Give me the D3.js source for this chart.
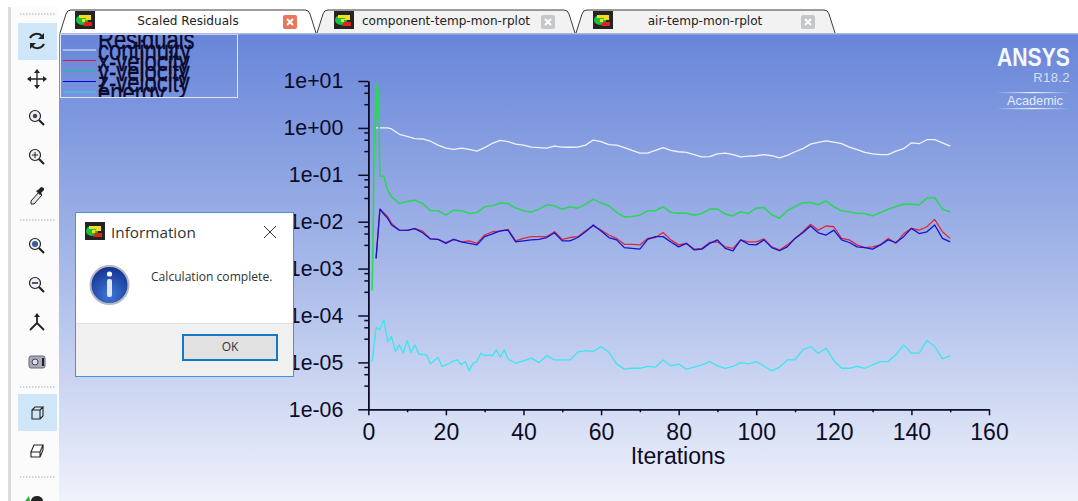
<!DOCTYPE html>
<html>
<head>
<meta charset="utf-8">
<script src="https://cdn.jsdelivr.net/npm/d3@7"></script>
<style>
  html, body { margin: 0; padding: 0; background: #fff; overflow: hidden; }
  svg { display: block; font-family: "Liberation Sans", sans-serif; }
</style>
</head>
<body>
<script>
// iterations shared by continuity, x, y (tail) and z
var iterations = [2, 3, 4, 5, 6,
  8, 10, 12, 14, 16, 18, 20, 22, 24, 26,
  28, 30, 32, 34, 36, 38, 40, 42, 44, 46,
  48, 50, 52, 54, 56, 58, 60, 62, 64, 66,
  68, 70, 72, 74, 76, 78, 80, 82, 84, 86,
  88, 90, 92, 94, 96, 98, 100, 102, 104, 106,
  108, 110, 112, 114, 116, 118, 120, 122, 124, 126,
  128, 130, 132, 134, 136, 138, 140, 142, 144, 146,
  148, 150];

var continuity = [1, 1, 1, 1, 0.95,
  0.73, 0.66, 0.59, 0.58, 0.52, 0.43, 0.37, 0.35, 0.37, 0.35,
  0.32, 0.38, 0.47, 0.54, 0.51, 0.45, 0.43, 0.39, 0.38, 0.37,
  0.41, 0.39, 0.387, 0.39, 0.43, 0.55, 0.51, 0.44, 0.43, 0.38,
  0.33, 0.29, 0.29, 0.33, 0.38, 0.33, 0.31, 0.30, 0.27, 0.24,
  0.245, 0.28, 0.29, 0.27, 0.24, 0.25, 0.255, 0.27, 0.255, 0.23,
  0.26, 0.31, 0.36, 0.45, 0.49, 0.53, 0.50, 0.46, 0.39, 0.345,
  0.30, 0.28, 0.27, 0.27, 0.32, 0.36, 0.48, 0.46, 0.56, 0.56,
  0.48, 0.41];

// x and z velocity, read in units of 1e-3
var xVelocity = [1.65, 18.6, 15.6, 12.8, 9.2,
  6.6, 6.5, 7.1, 6.3, 4.3, 4.2, 3.6, 4.2, 3.7, 3.9,
  3.45, 5.2, 6.1, 6.3, 6.9, 3.9, 4.4, 4.8, 4.8, 4.8,
  6.1, 4.2, 4.6, 4.8, 6.4, 8.1, 6.6, 5.2, 4.4, 3.3,
  3.3, 3.2, 4.4, 4.6, 5.9, 4.1, 3.2, 3.45, 2.6, 2.7,
  3.6, 3.7, 2.9, 2.7, 4.1, 3.7, 3.7, 4.3, 2.9, 2.5,
  3.2, 4.4, 6.1, 8.8, 6.6, 8.1, 7.8, 4.4, 4.1, 3.2,
  2.8, 2.9, 3.2, 4.4, 3.45, 5.5, 7.2, 6.6, 7.8, 11.2,
  6.1, 4.4];

var zVelocity = [1.65, 18.6, 14.6, 11.8, 8.5,
  6.6, 6.5, 7.1, 5.8, 4.3, 4.2, 3.45, 4.2, 3.7, 3.45,
  3.2, 4.8, 5.5, 6.4, 6.6, 3.7, 3.9, 4.1, 4.2, 4.6,
  5.8, 3.9, 3.9, 4.6, 6.1, 8.5, 6.3, 4.6, 4.1, 2.8,
  2.7, 2.6, 4.2, 4.8, 4.8, 3.7, 2.9, 3.45, 2.5, 2.6,
  3.45, 4.1, 2.7, 2.4, 4.1, 3.3, 3.2, 4.1, 2.8, 2.4,
  2.9, 4.4, 5.8, 8.1, 5.8, 5.2, 6.6, 4.1, 3.6, 2.9,
  2.8, 2.6, 3.2, 4.1, 3.6, 4.8, 7.2, 5.6, 6.1, 8.5,
  4.4, 3.7];

// y velocity has the big start-up spike, so it gets extra early points
var yVelocityIter = [1, 1.5, 2, 2.3, 2.5, 2.8, 3, 4, 5, 6].concat(iterations.slice(5));
var yVelocity = [0.00034, 0.226, 8.9, 1.5, 7, 0.9, 0.093, 0.093, 0.047, 0.0339,
  0.0245, 0.027, 0.0288, 0.0245, 0.0171, 0.0171, 0.0138, 0.0176, 0.0171, 0.015,
  0.0157, 0.0208, 0.0218, 0.0249, 0.0245, 0.0195, 0.0171, 0.016, 0.0185, 0.0229,
  0.0218, 0.0185, 0.0208, 0.0195, 0.0237, 0.0303, 0.0249, 0.0218, 0.0157, 0.0127,
  0.0129, 0.0138, 0.0171, 0.0171, 0.0208, 0.0157, 0.0152, 0.0152, 0.0138, 0.015,
  0.0185, 0.0185, 0.0145, 0.0133, 0.0163, 0.015, 0.0195, 0.0201, 0.014, 0.0119,
  0.0171, 0.0211, 0.0253, 0.0257, 0.0229, 0.0279, 0.0208, 0.0171, 0.0163, 0.015,
  0.015, 0.0133, 0.0157, 0.0185, 0.0211, 0.0237, 0.0237, 0.0229, 0.0318, 0.0328,
  0.0185, 0.0163];

// energy is jagged early on, read it at every iteration up to 36. units of 1e-5
var energyIter = d3.range(1, 37).concat(d3.range(38, 151, 2));
var energy = [1.04, 5.64, 4.95, 8.08, 2.79, 3.57, 1.71, 2.37, 1.57, 2.93, 1.63, 2.37,
  1.52, 1.47, 1.45, 0.92, 1.10, 1.27, 0.82, 0.89, 0.96, 1.08, 1.13, 0.89,
  1.04, 0.66, 0.96, 1.04, 1.57, 1.40, 1.45, 1.38, 1.85, 1.29, 1.85, 1.19,
  0.96, 1.08, 1.23, 0.99, 1.40, 1.13, 1.13, 1.13, 1.65, 1.79, 1.71, 2.18, 1.65, 0.93,
  0.72, 0.75, 0.75, 0.82, 0.79, 1.13, 0.84, 0.92, 0.72, 0.79, 0.89, 1.04, 0.84, 0.75,
  0.82, 0.99, 0.93, 1.04, 0.84, 0.66, 0.79, 1.13, 1.13, 1.85, 2.18, 1.57, 2.01, 1.10,
  0.75, 0.75, 0.82, 0.75, 0.89, 1.04, 1.04, 1.45, 2.37, 1.57, 1.57, 2.93, 2.18, 1.19, 1.40];

var seriesNames = ['continuity', 'x-velocity', 'y-velocity', 'z-velocity', 'energy'];
var seriesColors = ['#f1f4fb', '#dc2a3c', '#2fd45c', '#1414d2', '#3ce6ec'];
var seriesWidths = [1.3, 1.3, 1.6, 1.3, 1.3];
var legendColors = ['#e8ecf4', '#c8203c', '#1cc48a', '#0808d8', '#22d4f0'];
var yTicks = [10, 1, 0.1, 0.01, 0.001, 0.0001, 0.00001, 0.000001];
var yTickLabels = ['1e+01', '1e+00', '1e-01', '1e-02', '1e-03', '1e-04', '1e-05', '1e-06'];
var xTicks = [0, 20, 40, 60, 80, 100, 120, 140, 160];
var xMinorTicks = [10, 30, 50, 70, 90, 110, 130, 150];
var minorFactors = [0.8, 0.56, 0.32];

var width = 1078, height = 501;
var ink = '#0c0c28';

var svg = d3.select('body').append('svg')
  .attr('width', width)
  .attr('height', height);

var defs = svg.append('defs');
var bg = defs.append('linearGradient').attr('id', 'bg')
  .attr('x1', 0).attr('y1', 0).attr('x2', 0).attr('y2', 1);
bg.append('stop').attr('offset', 0).attr('stop-color', '#6885d9');
bg.append('stop').attr('offset', 0.5).attr('stop-color', '#a7b9e9');
bg.append('stop').attr('offset', 1).attr('stop-color', '#f0f2fb');
defs.append('clipPath').attr('id', 'legendClip')
  .append('rect').attr('x', 60).attr('y', 35).attr('width', 177).attr('height', 62);
var rule = defs.append('linearGradient').attr('id', 'rule');
rule.append('stop').attr('offset', 0).attr('stop-color', '#fff').attr('stop-opacity', 0);
rule.append('stop').attr('offset', 0.5).attr('stop-color', '#fff').attr('stop-opacity', 0.9);
rule.append('stop').attr('offset', 1).attr('stop-color', '#fff').attr('stop-opacity', 0);
var infoBlue = defs.append('radialGradient').attr('id', 'infoBlue')
  .attr('cx', 0.5).attr('cy', 0.75).attr('r', 0.75);
infoBlue.append('stop').attr('offset', 0).attr('stop-color', '#3f78d8');
infoBlue.append('stop').attr('offset', 1).attr('stop-color', '#12308c');

// plot window background
svg.append('rect').attr('x', 59).attr('y', 34).attr('width', width - 59).attr('height', height - 34)
  .attr('fill', 'url(#bg)');

// --- scales and axes
var x = d3.scaleLinear().domain([0, 160]).range([368.3, 989]);
var y = d3.scaleLog().domain([1e-6, 10]).range([409.3, 81]);

var yMinor = [];
yTicks.slice(0, -1).forEach(function(t) {
  minorFactors.forEach(function(f) { yMinor.push(t * f); });
});

function styleAxis(g) {
  g.selectAll('path').attr('stroke', ink).attr('stroke-width', 1.5);
  g.selectAll('line').attr('stroke', ink).attr('stroke-width', 1.5);
  g.selectAll('text').attr('fill', ink).attr('font-family', '"Liberation Sans", sans-serif');
}

svg.append('g').attr('transform', 'translate(368.3,0)')
  .call(d3.axisLeft(y).tickValues(yMinor).tickSize(4).tickSizeOuter(0).tickFormat(''))
  .call(styleAxis);
svg.append('g').attr('transform', 'translate(368.3,0)')
  .call(d3.axisLeft(y).tickValues(yTicks).tickSize(10).tickSizeOuter(0).tickPadding(15)
    .tickFormat(function(d, i) { return yTickLabels[i]; }))
  .call(styleAxis)
  .selectAll('text').attr('font-size', 21.3);

svg.append('g').attr('transform', 'translate(0,409.3)')
  .call(d3.axisBottom(x).tickValues(xMinorTicks).tickSize(3).tickSizeOuter(0).tickFormat(''))
  .call(styleAxis);
svg.append('g').attr('transform', 'translate(0,409.3)')
  .call(d3.axisBottom(x).tickValues(xTicks).tickSize(6).tickSizeOuter(0).tickPadding(8))
  .call(styleAxis)
  .selectAll('text').attr('font-size', 23);

svg.append('text').attr('x', 678).attr('y', 464)
  .attr('text-anchor', 'middle').attr('font-size', 23).attr('fill', ink)
  .text('Iterations');

// --- the residual curves
var line = d3.line()
  .x(function(d) { return x(d[0]); })
  .y(function(d) { return y(d[1]); });

var curves = [
  d3.zip(iterations, continuity),
  d3.zip(iterations, xVelocity.map(function(v) { return v * 1e-3; })),
  d3.zip(yVelocityIter, yVelocity),
  d3.zip(iterations, zVelocity.map(function(v) { return v * 1e-3; })),
  d3.zip(energyIter, energy.map(function(v) { return v * 1e-5; }))
];

svg.append('g').attr('fill', 'none').attr('stroke-linejoin', 'round')
  .selectAll('path')
  .data(curves)
  .enter().append('path')
    .attr('d', line)
    .attr('stroke', function(d, i) { return seriesColors[i]; })
    .attr('stroke-width', function(d, i) { return seriesWidths[i]; });

// --- legend, text overlaps and gets clipped by the box like in fluent
var legend = svg.append('g');
legend.append('rect').attr('x', 60.5).attr('y', 34.5).attr('width', 177).attr('height', 63)
  .attr('fill', 'none').attr('stroke', '#dfe6f6').attr('stroke-width', 1);
var legendText = legend.append('g').attr('clip-path', 'url(#legendClip)')
  .attr('font-size', 22).attr('fill', '#0a0a2e').attr('stroke', '#0a0a2e').attr('stroke-width', 0.25);
function legendLabel(txt, by) {
  // fluent stretches these vertically
  legendText.append('text').attr('transform', 'translate(98,' + by + ') scale(1,1.25)').text(txt);
}
legendLabel('Residuals', 49);
var legendY = d3.scalePoint().domain(seriesNames).range([50, 92]);
seriesNames.forEach(function(name, i) {
  legend.append('line')
    .attr('x1', 63).attr('x2', 96)
    .attr('y1', legendY(name)).attr('y2', legendY(name))
    .attr('stroke', legendColors[i]).attr('stroke-width', 1.2);
  legendLabel(name, legendY(name) + 10);
});

// --- ansys logo
svg.append('text').attr('x', 997).attr('y', 66)
  .attr('font-size', 25).attr('font-weight', 'bold').attr('fill', '#f4f7fd')
  .attr('textLength', 73).attr('lengthAdjust', 'spacingAndGlyphs').text('ANSYS');
svg.append('text').attr('x', 1070).attr('y', 82).attr('text-anchor', 'end')
  .attr('font-size', 13).attr('fill', '#d6e0f6').attr('letter-spacing', 0.4).text('R18.2');
svg.append('text').attr('x', 1007).attr('y', 105)
  .attr('font-size', 12).attr('fill', '#e4ebfa')
  .attr('textLength', 56).attr('lengthAdjust', 'spacingAndGlyphs').text('Academic');
[92, 108].forEach(function(ry) {
  svg.append('rect').attr('x', 996).attr('y', ry).attr('width', 74).attr('height', 1.2)
    .attr('fill', 'url(#rule)');
});

// --- window chrome: tabs
function smallIcon(g, ix, iy) {
  g.append('rect').attr('x', ix).attr('y', iy).attr('width', 20).attr('height', 18).attr('fill', '#242424');
  g.append('ellipse').attr('cx', ix + 7).attr('cy', iy + 9).attr('rx', 6).attr('ry', 5).attr('fill', '#18c040');
  g.append('path').attr('d', 'M' + (ix + 4) + ' ' + (iy + 4) + 'h12v5h-6v2h-3v-3h4v-1h-7z').attr('fill', '#f2e020');
  g.append('path').attr('d', 'M' + (ix + 10) + ' ' + (iy + 11) + 'h7v4h-9z').attr('fill', '#e02418');
}
function closeBox(g, cx, cy, fill) {
  g.append('rect').attr('x', cx - 7).attr('y', cy - 7).attr('width', 14).attr('height', 14).attr('rx', 2).attr('fill', fill);
  g.append('path').attr('d', 'M' + (cx - 3) + ' ' + (cy - 3) + 'l6 6m0 -6l-6 6')
    .attr('stroke', '#fff').attr('stroke-width', 2);
}

svg.append('rect').attr('x', 0).attr('y', 0).attr('width', width).attr('height', 34).attr('fill', '#fff');
svg.append('rect').attr('x', 59).attr('y', 33).attr('width', width - 59).attr('height', 1.5).attr('fill', '#aab8dc');

var tabs = svg.append('g');
var tabDefs = [
  { l: 60, r: 316, top: 10, label: 'Scaled Residuals', tx: 188, ix: 75, bx: 290, fill: '#ffffff', box: '#e8775a' },
  { l: 317, r: 575, top: 10, label: 'component-temp-mon-rplot', tx: 446, ix: 334, bx: 548, fill: '#f2f2f2', box: '#c4c8cc' },
  { l: 576, r: 835, top: 10, label: 'air-temp-mon-rplot', tx: 705, ix: 593, bx: 808, fill: '#f2f2f2', box: '#c4c8cc' }
];
tabDefs.forEach(function(t) {
  var p = 'M' + t.l + ' 33L' + (t.l + 6) + ' 14Q' + (t.l + 7) + ' ' + t.top + ' ' + (t.l + 11) + ' ' + t.top +
    'H' + (t.r - 11) + 'Q' + (t.r - 7) + ' ' + t.top + ' ' + (t.r - 6) + ' 14L' + t.r + ' 33';
  tabs.append('path').attr('d', p).attr('fill', t.fill).attr('stroke', '#3c3c3c').attr('stroke-width', 1);
  smallIcon(tabs, t.ix, 11);
  closeBox(tabs, t.bx, 22, t.box);
  tabs.append('text').attr('x', t.tx).attr('y', 25).attr('text-anchor', 'middle')
    .attr('font-family', '"DejaVu Sans", sans-serif').attr('font-size', 12.1).attr('fill', '#222')
    .text(t.label);
});

// --- window chrome: left toolbar
svg.append('rect').attr('x', 0).attr('y', 7).attr('width', 59).attr('height', height - 7).attr('fill', '#fbfbfc');
svg.append('rect').attr('x', 0).attr('y', 7).attr('width', 8).attr('height', height - 7).attr('fill', '#fff');
svg.append('rect').attr('x', 8).attr('y', 7).attr('width', 3).attr('height', height - 7).attr('fill', '#dcdcdc');

var tools = svg.append('g').attr('fill', 'none').attr('stroke', '#222').attr('stroke-width', 1.5);
[[18, 23, 39, 37], [18, 394, 39, 37]].forEach(function(b) {
  tools.append('rect').attr('x', b[0]).attr('y', b[1]).attr('width', b[2]).attr('height', b[3])
    .attr('fill', '#cfe6f8').attr('stroke', 'none');
});
[14, 220, 387, 477].forEach(function(sy) {
  tools.append('line').attr('x1', 20).attr('x2', 56).attr('y1', sy).attr('y2', sy)
    .attr('stroke', '#aaa').attr('stroke-width', 1).attr('stroke-dasharray', '1.5 1.5');
});
function loupe(cy, inner) {
  var g = tools.append('g').attr('transform', 'translate(36,' + cy + ')');
  g.append('circle').attr('r', 5.5).attr('cx', -1).attr('cy', -1).attr('fill', '#eef0f4').attr('stroke-width', 1.2);
  g.append('line').attr('x1', 3).attr('y1', 3).attr('x2', 8).attr('y2', 8).attr('stroke-width', 2.2);
  if (inner == 'plus') g.append('path').attr('d', 'M-4 -1h6M-1 -4v6').attr('stroke-width', 1);
  if (inner == 'dot') g.append('circle').attr('cx', -1).attr('cy', -1).attr('r', 2.2).attr('fill', '#445').attr('stroke', 'none');
  if (inner == 'blue') g.append('circle').attr('cx', -1).attr('cy', -1).attr('r', 3).attr('fill', '#3c5a9a').attr('stroke', 'none');
  if (inner == 'back') g.append('path').attr('d', 'M-4 -1h6').attr('stroke', '#557').attr('stroke-width', 2);
}
loupe(117, 'dot');
loupe(156, 'plus');
loupe(245, 'blue');
loupe(284, 'back');

// rotate arrows
tools.append('path').attr('d', 'M30 38a7.5 7.5 0 0 1 12 -2').attr('stroke-width', 2);
tools.append('path').attr('d', 'M44 33v6h-6z').attr('fill', '#222').attr('stroke', 'none');
tools.append('path').attr('d', 'M44 44a7.5 7.5 0 0 1 -12 2').attr('stroke-width', 2);
tools.append('path').attr('d', 'M30 49v-6h6z').attr('fill', '#222').attr('stroke', 'none');
// pan cross
tools.append('path').attr('d', 'M29 79h16M37 71v16').attr('stroke-width', 1.3);
tools.append('path').attr('d', 'M37 69l3 4h-6zM37 89l3 -4h-6zM27 79l4 3v-6zM47 79l-4 3v-6z').attr('fill', '#222').attr('stroke', 'none');
// dropper
tools.append('path').attr('d', 'M31 201l8 -9 3 3 -8 9h-3z').attr('fill', '#e8e8e8').attr('stroke-width', 1);
tools.append('path').attr('d', 'M38 190l3 -3 3 1 0 2 -3 3 1 1 -2 1 -4 -4z').attr('fill', '#222').attr('stroke', 'none');
// axes
tools.append('path').attr('d', 'M37 323v-8M37 323l-7 7M37 323l7 7').attr('stroke-width', 1.8);
tools.append('path').attr('d', 'M37 313l3 4h-6z').attr('fill', '#222').attr('stroke', 'none');
// camera
tools.append('rect').attr('x', 29).attr('y', 356).attr('width', 16).attr('height', 12).attr('rx', 2)
  .attr('fill', '#aab').attr('stroke', '#667').attr('stroke-width', 1);
tools.append('circle').attr('cx', 35).attr('cy', 362).attr('r', 3).attr('fill', '#dde').attr('stroke', '#445').attr('stroke-width', 1);
tools.append('rect').attr('x', 42).attr('y', 358).attr('width', 2).attr('height', 8).attr('fill', '#222').attr('stroke', 'none');
// cubes
tools.append('path').attr('d', 'M32 410h8v9h-8zM32 410l3 -3h8l-3 3M43 407v9l-3 3').attr('stroke-width', 1.1);
tools.append('path').attr('d', 'M31 452l3 -7h9l-3 7h-9zM31 452v5h9v-5M43 445v5l-3 7').attr('stroke-width', 1.1);
// last icon, cut off by the bottom of the window
tools.append('path').attr('d', 'M25 501l4 -5 1 5z').attr('fill', '#3a3').attr('stroke', 'none');
tools.append('path').attr('d', 'M31 501a6 5 0 0 1 12 0z').attr('fill', '#222').attr('stroke', 'none');

// --- information dialog on top of the chart
var dlg = svg.append('g');
dlg.append('rect').attr('x', 75.5).attr('y', 212.5).attr('width', 218).attr('height', 164)
  .attr('fill', '#fff').attr('stroke', '#4b92d4').attr('stroke-width', 1);
dlg.append('rect').attr('x', 76).attr('y', 323).attr('width', 217).attr('height', 53).attr('fill', '#f0f0f0');
dlg.append('line').attr('x1', 76).attr('x2', 293).attr('y1', 323.5).attr('y2', 323.5).attr('stroke', '#dfdfdf');
smallIcon(dlg, 85, 222);
dlg.append('text').attr('x', 111).attr('y', 238).attr('font-family', '"Open Sans", sans-serif')
  .attr('font-size', 15.3).attr('fill', '#333').text('Information');
dlg.append('path').attr('d', 'M264 226l12 12m0 -12l-12 12').attr('stroke', '#333').attr('stroke-width', 1).attr('fill', 'none');
dlg.append('circle').attr('cx', 109.5).attr('cy', 285).attr('r', 19)
  .attr('fill', 'url(#infoBlue)').attr('stroke', '#b4b8c0').attr('stroke-width', 2);
dlg.append('circle').attr('cx', 109.5).attr('cy', 274).attr('r', 2.6).attr('fill', '#fff');
dlg.append('rect').attr('x', 107).attr('y', 279).attr('width', 5).attr('height', 18).attr('rx', 2).attr('fill', '#dfe6f4');
dlg.append('text').attr('x', 151).attr('y', 281).attr('font-family', '"Open Sans", sans-serif')
  .attr('font-size', 12.1).attr('fill', '#333').text('Calculation complete.');
dlg.append('rect').attr('x', 183).attr('y', 335).attr('width', 94).attr('height', 25)
  .attr('fill', '#e1e1e1').attr('stroke', '#1477c4').attr('stroke-width', 2);
dlg.append('text').attr('x', 230).attr('y', 351).attr('text-anchor', 'middle')
  .attr('font-family', '"Open Sans", sans-serif').attr('font-size', 12).attr('fill', '#333').text('OK');
</script>
</body>
</html>
